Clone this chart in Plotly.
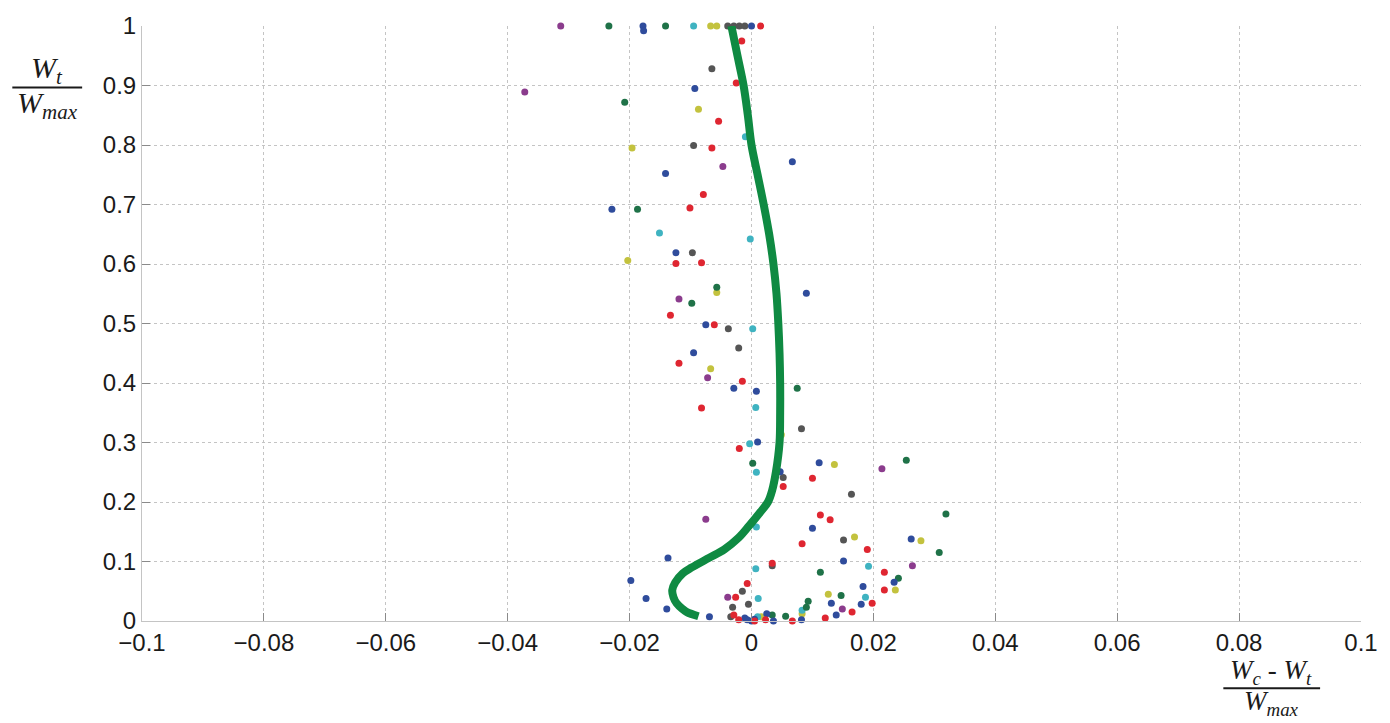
import plotly.graph_objects as go

# ---------------- data ----------------
x_tick_vals = [-0.1, -0.08, -0.06, -0.04, -0.02, 0, 0.02, 0.04, 0.06, 0.08, 0.1]
x_tick_text = ["\u22120.1", "\u22120.08", "\u22120.06", "\u22120.04", "\u22120.02", "0",
               "0.02", "0.04", "0.06", "0.08", "0.1"]
y_tick_vals = [0, 0.1, 0.2, 0.3, 0.4, 0.5, 0.6, 0.7, 0.8, 0.9, 1]
y_tick_text = ["0", "0.1", "0.2", "0.3", "0.4", "0.5", "0.6", "0.7", "0.8", "0.9", "1"]

# mean curve (thick green)
curve_y = [1.0, 0.95, 0.9, 0.85, 0.8, 0.75, 0.7, 0.65, 0.6, 0.55, 0.5, 0.45, 0.4, 0.35,
           0.3, 0.25, 0.22, 0.2, 0.18, 0.16, 0.14, 0.12, 0.106, 0.09, 0.08, 0.065,
           0.052, 0.04, 0.03, 0.02, 0.015, 0.008]
curve_x = [-0.0033, -0.0023, -0.0013, -0.0006, 0.0, 0.001, 0.002, 0.0029, 0.0036,
           0.0041, 0.0044, 0.0046, 0.0047, 0.0047, 0.0046, 0.004, 0.0034, 0.0027,
           0.0012, -0.0004, -0.0021, -0.0045, -0.007, -0.0098, -0.0113, -0.0125,
           -0.013, -0.0128, -0.0123, -0.0113, -0.0106, -0.0087]

blue_x = [-0.0178, -0.0177, 0.0, -0.0093, 0.0067, -0.0141, -0.0229, -0.0124, 0.009,
          -0.0075, -0.0095, -0.0029, 0.0008, 0.001, 0.0111, 0.0047, 0.01, 0.0262,
          0.0151, 0.0234, 0.0183, 0.0131, 0.018, 0.0139, 0.0082, -0.0137, -0.0198,
          -0.0173, -0.0139, -0.0069, -0.0011, -0.0007, 0.0, 0.0005, 0.0025, 0.0036]
blue_y = [1.0, 0.992, 1.0, 0.895, 0.772, 0.752, 0.692, 0.619, 0.551, 0.498, 0.451,
          0.391, 0.386, 0.301, 0.266, 0.251, 0.156, 0.138, 0.101, 0.065, 0.058, 0.03,
          0.028, 0.01, 0.002, 0.106, 0.068, 0.038, 0.02, 0.007, 0.005, 0.002, 0.0,
          0.003, 0.012, 0.0]

red_x = [0.0015, -0.0016, -0.0025, -0.0054, -0.0065, -0.0079, -0.0101, -0.0124,
         -0.0082, -0.0133, -0.0061, -0.0119, -0.0015, -0.0082, -0.002, 0.01, 0.0052,
         0.0113, 0.0129, 0.0083, 0.019, 0.0218, 0.0218, 0.0198, 0.0165, 0.0067,
         0.0121, 0.0034, -0.0007, -0.0026, -0.0029, -0.0021, 0.0005, 0.0023]
red_y = [1.0, 0.975, 0.904, 0.84, 0.795, 0.717, 0.694, 0.601, 0.602, 0.514, 0.498,
         0.433, 0.403, 0.358, 0.29, 0.24, 0.226, 0.178, 0.17, 0.13, 0.12, 0.082,
         0.052, 0.03, 0.015, 0.0, 0.005, 0.097, 0.063, 0.04, 0.01, 0.002, 0.0, 0.002]

green_x = [-0.0234, -0.0141, -0.0208, -0.0187, -0.0057, -0.0098, 0.0075, 0.0002,
           0.0254, 0.0319, 0.0308, 0.0113, 0.0241, 0.0147, 0.0093, 0.009, 0.0056, 0.0034]
green_y = [1.0, 1.0, 0.872, 0.692, 0.561, 0.534, 0.391, 0.265, 0.27, 0.18, 0.115,
           0.082, 0.072, 0.043, 0.033, 0.023, 0.008, 0.01]

purple_x = [-0.0313, -0.0372, -0.0047, -0.0119, -0.0072, 0.0214, -0.0075, 0.0264,
            0.0149, -0.0039]
purple_y = [1.0, 0.889, 0.764, 0.541, 0.409, 0.256, 0.171, 0.093, 0.02, 0.04]

cyan_x = [-0.0095, -0.001, -0.0151, -0.0002, 0.0002, 0.0007, -0.0003, 0.0008, 0.0008,
          0.0007, 0.0011, 0.0192, 0.0187, 0.0083, 0.001]
cyan_y = [1.0, 0.814, 0.652, 0.642, 0.491, 0.359, 0.298, 0.25, 0.158, 0.088, 0.038,
          0.092, 0.04, 0.018, 0.007]

yellow_x = [-0.0067, -0.0057, -0.0087, -0.0196, -0.0203, -0.0057, -0.0067, 0.0049,
            0.0136, 0.0169, 0.0278, 0.0236, 0.0126, 0.0083, 0.0016]
yellow_y = [1.0, 1.0, 0.86, 0.795, 0.606, 0.552, 0.424, 0.313, 0.263, 0.141, 0.135,
            0.052, 0.045, 0.012, 0.007]

gray_x = [-0.0039, -0.0029, -0.002, -0.0011, -0.0065, -0.0095, -0.0097, -0.0038,
          -0.0021, 0.0082, 0.0052, 0.0164, 0.0151, 0.0034, -0.0015, -0.0005, -0.0031,
          -0.0034]
gray_y = [1.0, 1.0, 1.0, 1.0, 0.928, 0.799, 0.619, 0.491, 0.459, 0.323, 0.241, 0.213,
          0.136, 0.093, 0.05, 0.028, 0.023, 0.007]

# ---------------- figure ----------------
fig = go.Figure()

series = [
    (gray_x, gray_y, "#555555"),
    (yellow_x, yellow_y, "#c3c23e"),
    (cyan_x, cyan_y, "#3fb3c1"),
    (purple_x, purple_y, "#8b3c8d"),
    (green_x, green_y, "#1f7248"),
    (blue_x, blue_y, "#2f4c9c"),
    (red_x, red_y, "#df2631"),
]
for sx, sy, col in series:
    fig.add_trace(go.Scatter(x=sx, y=sy, mode="markers",
                             marker=dict(size=7, color=col, line=dict(width=0)),
                             showlegend=False, cliponaxis=False))

fig.add_trace(go.Scatter(x=curve_x, y=curve_y, mode="lines",
                         line=dict(color="#0f8a42", width=8, shape="spline"),
                         showlegend=False))

axis_common = dict(
    showgrid=True, gridcolor="#c4c4c4", griddash="dot", gridwidth=1,
    zeroline=False, showline=True, linecolor="#c4c4c4", linewidth=1,
    ticks="inside", ticklen=8, tickcolor="#8a8a8a", tickwidth=1,
    tickfont=dict(family="Liberation Sans, Arial, sans-serif", size=24, color="#1a1a1a"),
)

fig.update_layout(
    width=1390, height=723,
    margin=dict(l=142, r=26, t=20, b=102),
    paper_bgcolor="white", plot_bgcolor="white",
    xaxis=dict(range=[-0.1, 0.1], tickvals=x_tick_vals, ticktext=x_tick_text, **axis_common),
    yaxis=dict(range=[0, 1], tickvals=y_tick_vals, ticktext=y_tick_text, **axis_common),
)

# fraction labels built from annotations + line shapes (paper coordinates)
L, R, T, B = 142, 1364, 20, 621
def px_x(p):
    return (p - L) / (R - L)
def px_y(p):
    return (B - p) / (B - T)

serif_y = dict(family="Liberation Serif, Times New Roman, serif", size=30, color="#1a1a1a")
serif_x = dict(family="Liberation Serif, Times New Roman, serif", size=27, color="#1a1a1a")

# y-axis fraction
fig.add_annotation(x=px_x(47), y=px_y(64), xref="paper", yref="paper",
                   text="<i>W</i><sub><i>t</i></sub>", showarrow=False, font=serif_y,
                   xanchor="center", yanchor="middle")
fig.add_shape(type="line", xref="paper", yref="paper",
              x0=px_x(12), x1=px_x(82), y0=px_y(82), y1=px_y(82),
              line=dict(color="#1a1a1a", width=2))
fig.add_annotation(x=px_x(47), y=px_y(100), xref="paper", yref="paper",
                   text="<i>W</i><sub><i>max</i></sub>", showarrow=False, font=serif_y,
                   xanchor="center", yanchor="middle")

# x-axis fraction
fig.add_annotation(x=px_x(1274), y=px_y(673), xref="paper", yref="paper",
                   text="<i>W</i><sub><i>c</i></sub> - <i>W</i><sub><i>t</i></sub>",
                   showarrow=False, font=serif_x, xanchor="center", yanchor="middle")
fig.add_shape(type="line", xref="paper", yref="paper",
              x0=px_x(1226), x1=px_x(1323), y0=px_y(689), y1=px_y(689),
              line=dict(color="#1a1a1a", width=2))
fig.add_annotation(x=px_x(1274), y=px_y(704), xref="paper", yref="paper",
                   text="<i>W</i><sub><i>max</i></sub>", showarrow=False, font=serif_x,
                   xanchor="center", yanchor="middle")

fig.write_html("out.html")
